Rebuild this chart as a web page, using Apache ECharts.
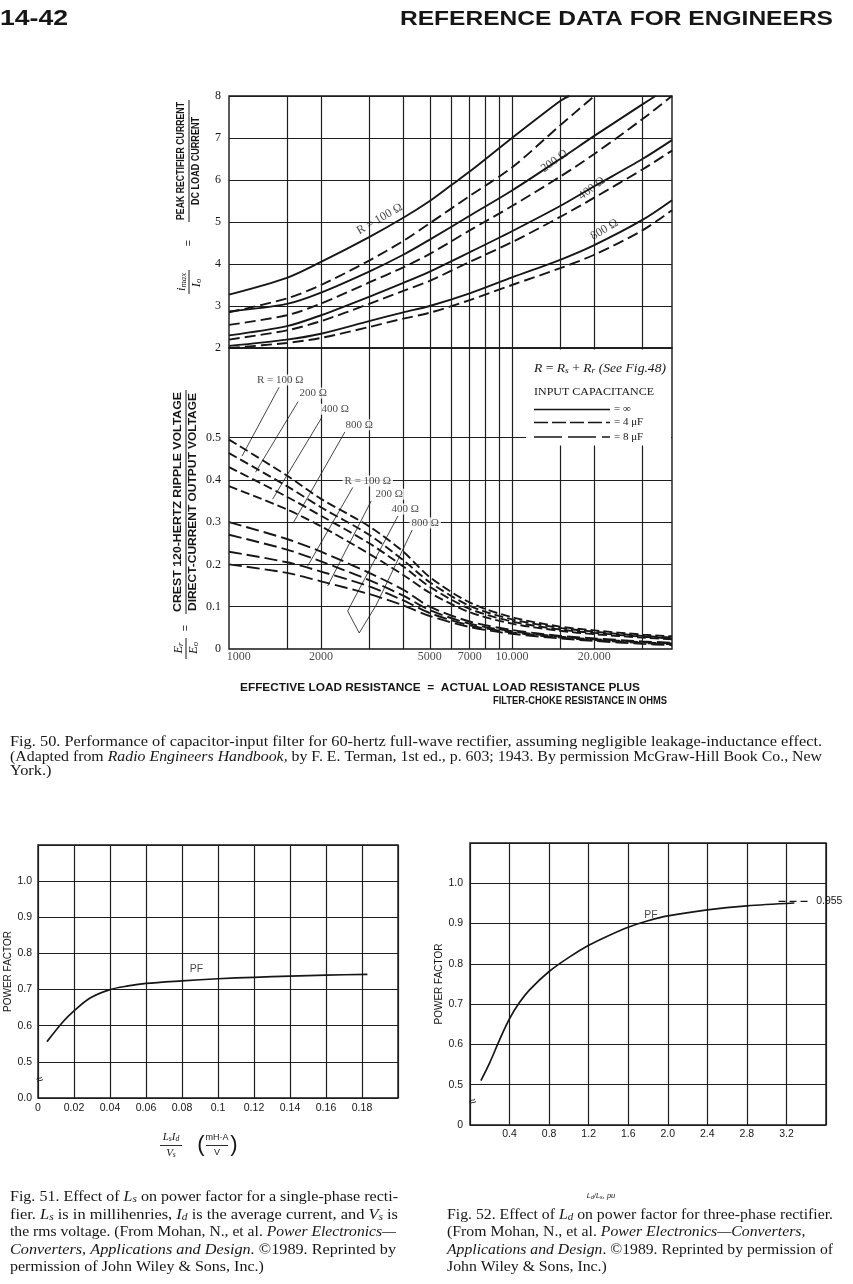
<!DOCTYPE html>
<html><head><meta charset="utf-8">
<script src="https://cdn.jsdelivr.net/npm/echarts@6/dist/echarts.min.js"></script>
<style>html,body{margin:0;padding:0;background:#fff}#c{width:853px;height:1284px}</style>
</head><body><div id="c"></div>
<script>
// ================= DATA =================
// Fig. 50 – x axis (effective load resistance, ohms, log scale)
const resGridX = [1500,2000,3000,4000,5000,6000,7000,8000,9000,10000,15000,20000,30000];
const resTickValues = [1000,2000,5000,7000,10000,20000];
const resTickLabels = ['1000','2000','5000','7000','10.000','20.000'];
const rippleGridY = [0.1,0.2,0.3,0.4,0.5];
const rippleTickLabels = ['0','0.1','0.2','0.3','0.4','0.5'];

// common resistance samples
const resX = [921,1500,2000,3000,4000,5000,7000,10000,15000,20000,30000,38500];

// Peak rectifier current / dc load current
const peakInf100X = [921,1500,2000,3000,4000,5000,6000,7000,10000,15000,16200];
const peakInf100  = [3.27,3.67,4.05,4.64,5.1,5.5,5.88,6.2,7.0,7.88,8.0];
const peakC100X   = [921,1500,2000,3000,4000,5000,7000,10000,15000,20000];
const peakC100    = [2.85,3.18,3.5,4.08,4.55,4.97,5.62,6.3,7.3,8.0];
const peakInf200X = [921,1500,2000,3000,4000,5000,7000,10000,15000,20000,30000,33500];
const peakInf200  = [2.87,3.05,3.32,3.82,4.22,4.58,5.15,5.75,6.5,7.05,7.8,8.0];
const peakC200    = [2.55,2.78,3.06,3.56,3.92,4.24,4.8,5.38,6.08,6.62,7.45,8.0];
const peakInf400  = [2.3,2.52,2.78,3.22,3.55,3.82,4.28,4.78,5.38,5.85,6.5,6.95];
const peakC400    = [2.2,2.42,2.64,3.05,3.36,3.6,4.05,4.52,5.12,5.58,6.25,6.7];
const peakInf800  = [2.05,2.2,2.34,2.64,2.85,3.0,3.3,3.68,4.1,4.45,5.05,5.52];
const peakC800    = [2.0,2.12,2.24,2.5,2.7,2.84,3.14,3.5,3.9,4.22,4.8,5.28];

// Crest ripple / dc output voltage (on resX)
const ripple4uF100 = [0.495,0.41,0.355,0.29,0.23,0.17,0.11,0.075,0.053,0.044,0.034,0.03];
const ripple4uF200 = [0.463,0.385,0.335,0.27,0.21,0.158,0.102,0.07,0.05,0.041,0.031,0.027];
const ripple4uF400 = [0.43,0.36,0.315,0.25,0.195,0.147,0.095,0.065,0.046,0.038,0.029,0.025];
const ripple4uF800 = [0.385,0.33,0.29,0.225,0.175,0.133,0.087,0.06,0.043,0.035,0.027,0.023];
const ripple8uF100 = [0.30,0.26,0.23,0.18,0.14,0.10,0.065,0.045,0.031,0.025,0.018,0.015];
const ripple8uF200 = [0.27,0.235,0.207,0.163,0.126,0.092,0.06,0.042,0.029,0.023,0.016,0.013];
const ripple8uF400 = [0.23,0.205,0.183,0.148,0.115,0.085,0.056,0.039,0.027,0.021,0.014,0.011];
const ripple8uF800 = [0.20,0.18,0.16,0.13,0.103,0.078,0.052,0.036,0.025,0.019,0.012,0.009];

// annotation leaders (data units: ohms, ratio)
const lead4uF100 = [[1405,0.619],[1028,0.456]];
const lead4uF200 = [[1649,0.585],[1152,0.418]];
const lead4uF400 = [[2012,0.547],[1329,0.354]];
const lead4uF800 = [[2445,0.513],[1579,0.297]];
const lead8uF100 = [[2614,0.382],[1786,0.196]];
const lead8uF200 = [[3052,0.35],[2115,0.149]];
const lead8uF400 = [[3823,0.3144],[2503,0.0898],[2759,0.0378]];
const lead8uF800 = [[4313,0.2813],[3184,0.104],[2759,0.0378]];
const rippleLabelText = ['R = 100 Ω','200 Ω','400 Ω','800 Ω','R = 100 Ω','200 Ω','400 Ω','800 Ω'];
const rippleLabelX = [1417,1872,2253,2759,2966,3553,4066,4813];
const rippleLabelY = [0.636,0.605,0.567,0.53,0.397,0.366,0.331,0.298];
const peakLabelText = ['R = 100 Ω','200 Ω','400 Ω','800 Ω'];
const peakLabelX = [3277,14300,19600,21800];
const peakLabelY = [5.07,6.45,5.8,4.82];
const peakLabelAngle = [30,36,37,31];

// Fig. 51 – single-phase PF
const pf1X = [0.005,0.0139,0.02,0.0287,0.04,0.05,0.06,0.08,0.1,0.12,0.14,0.16,0.183];
const pf1Y = [0.556,0.611,0.641,0.676,0.700,0.710,0.717,0.724,0.730,0.734,0.737,0.740,0.742];
// Fig. 52 – three-phase PF
const pf3X = [0.11,0.2,0.3,0.4,0.5,0.6,0.8,1.0,1.2,1.4,1.6,1.8,2.0,2.4,2.8,3.28];
const pf3Y = [0.51,0.555,0.612,0.664,0.704,0.735,0.781,0.816,0.846,0.870,0.891,0.907,0.919,0.934,0.944,0.951];
const pf3Limit = 0.955;
const pf3LimitX = [3.12,3.45];

// ================= HELPERS =================
const SERIF = "'Liberation Serif', 'DejaVu Serif', serif";
const SANS = "'Liberation Sans', Arial, sans-serif";
const INK = '#161616';
const zip = (xs, ys) => xs.map((x, i) => [x, ys[i]]);
const ctx2d = document.createElement('canvas').getContext('2d');

function measure(segs, size, fam, wt) {
  let w = 0;
  for (const [t, k] of segs) {
    const fs = k === 2 ? size * 0.7 : size;
    ctx2d.font = (k ? 'italic ' : 'normal ') + wt + ' ' + fs + 'px ' + fam;
    w += ctx2d.measureText(t).width;
  }
  return w;
}
function mk(segs, o) {
  const size = o.size, fam = o.family || SERIF, wt = o.weight || 'normal';
  const sx = o.target ? o.target / measure(segs, size, fam, wt) : (o.sx || 1);
  const rich = {
    a: {fontSize: size, fontFamily: fam, fontWeight: wt, fontStyle: 'normal', fill: INK},
    b: {fontSize: size, fontFamily: fam, fontWeight: wt, fontStyle: 'italic', fill: INK},
    c: {fontSize: size * 0.7, fontFamily: fam, fontWeight: wt, fontStyle: 'italic', fill: INK, verticalAlign: 'bottom'}
  };
  const text = segs.map(([t, k]) => '{' + 'abc'[k] + '|' + t + '}').join('');
  return {type: 'text', x: o.x, y: o.y, rotation: o.rotation || 0, scaleX: sx, z: o.z || 100, silent: true,
    style: {text, rich, align: o.align || 'left', verticalAlign: 'middle', fontSize: size, fontFamily: fam, fontWeight: wt, fill: INK}};
}
function para(lines, x, ys, size) {
  const s0 = lines[0][1] / measure(lines[0][0], size, SERIF, 'normal');
  return lines.map(([segs, tw], i) => mk(segs, tw ? {x, y: ys[i], size, target: tw} : {x, y: ys[i], size, sx: s0}));
}
function ln(x1, y1, x2, y2, w, dash) {
  return {type: 'line', z: 101, silent: true, shape: {x1, y1, x2, y2},
    style: {stroke: INK, lineWidth: w || 1, lineDash: dash || null}};
}

const gridLineStyle = {color: '#1e1e1e', width: 1.2, type: 'solid'};
const curveW = 1.9;

function curve(name, data, xi, dash) {
  return {name, type: 'line', xAxisIndex: xi, yAxisIndex: xi, data, smooth: 0.3,
    symbol: 'none', z: 3, lineStyle: {color: INK, width: curveW, type: dash || 'solid'}, silent: true};
}
function leader(data) {
  return {type: 'line', xAxisIndex: 1, yAxisIndex: 1, data, symbol: 'none', z: 4, silent: true,
    lineStyle: {color: INK, width: 0.8}};
}

// ================= OPTION =================
const series = [];
series.push({type: 'line', xAxisIndex: 0, yAxisIndex: 0, data: [], z: 1, silent: true,
  markLine: {silent: true, symbol: ['none','none'], label: {show: false}, lineStyle: gridLineStyle, animation: false,
    data: resGridX.map(v => ({xAxis: v}))}});
series.push({type: 'line', xAxisIndex: 1, yAxisIndex: 1, data: [], z: 1, silent: true,
  markLine: {silent: true, symbol: ['none','none'], label: {show: false}, lineStyle: gridLineStyle, animation: false,
    data: resGridX.map(v => ({xAxis: v})).concat(rippleGridY.map(v => ({yAxis: v})))}});

const D4 = [11, 5], D8 = [13, 5], DU = [9, 4];
series.push(curve('∞ 100', zip(peakInf100X, peakInf100), 0));
series.push(curve('C 100', zip(peakC100X, peakC100), 0, D4));
series.push(curve('∞ 200', zip(peakInf200X, peakInf200), 0));
series.push(curve('C 200', zip(resX, peakC200), 0, D4));
series.push(curve('∞ 400', zip(resX, peakInf400), 0));
series.push(curve('C 400', zip(resX, peakC400), 0, D4));
series.push(curve('∞ 800', zip(resX, peakInf800), 0));
series.push(curve('C 800', zip(resX, peakC800), 0, D4));

series.push(curve('4uF 100', zip(resX, ripple4uF100), 1, DU));
series.push(curve('4uF 200', zip(resX, ripple4uF200), 1, DU));
series.push(curve('4uF 400', zip(resX, ripple4uF400), 1, DU));
series.push(curve('4uF 800', zip(resX, ripple4uF800), 1, DU));
series.push(curve('8uF 100', zip(resX, ripple8uF100), 1, D8));
series.push(curve('8uF 200', zip(resX, ripple8uF200), 1, D8));
series.push(curve('8uF 400', zip(resX, ripple8uF400), 1, D8));
series.push(curve('8uF 800', zip(resX, ripple8uF800), 1, D8));

[lead4uF100, lead4uF200, lead4uF400, lead4uF800, lead8uF100, lead8uF200, lead8uF400, lead8uF800]
  .forEach(d => series.push(leader(d)));

series.push({type: 'scatter', xAxisIndex: 1, yAxisIndex: 1, symbolSize: 0, z: 5, silent: true, clip: false,
  data: rippleLabelX.map((x, i) => ({value: [x, rippleLabelY[i]], name: rippleLabelText[i]})),
  label: {show: true, position: 'inside', formatter: '{b}', color: INK, fontSize: 11, fontFamily: SERIF,
    backgroundColor: '#fff', padding: [0, 2]}});
series.push({type: 'scatter', xAxisIndex: 0, yAxisIndex: 0, symbolSize: 0, z: 5, silent: true, clip: false,
  data: peakLabelX.map((x, i) => ({value: [x, peakLabelY[i]], name: peakLabelText[i],
    label: {rotate: peakLabelAngle[i]}})),
  label: {show: true, position: 'inside', formatter: '{b}', color: INK, fontSize: 12, fontFamily: SERIF}});
series.push({type: 'scatter', xAxisIndex: 1, yAxisIndex: 1, symbolSize: 0, z: 5, silent: true, clip: false,
  data: resTickValues.map((x, i) => ({value: [x, 0], name: resTickLabels[i]})),
  label: {show: true, position: 'bottom', distance: 2, formatter: '{b}', color: INK, fontSize: 12, fontFamily: SERIF}});

// Fig 51
series.push({type: 'line', xAxisIndex: 2, yAxisIndex: 2, data: zip(pf1X, pf1Y), smooth: 0.3,
  symbol: 'none', z: 3, lineStyle: {color: INK, width: 1.7}, silent: true});
series.push({type: 'scatter', xAxisIndex: 2, yAxisIndex: 2, symbolSize: 0, silent: true,
  data: [{value: [0.088, 0.757], name: 'PF'}],
  label: {show: true, position: 'inside', formatter: '{b}', color: INK, fontSize: 10.5, fontFamily: SANS}});
// Fig 52
series.push({type: 'line', xAxisIndex: 3, yAxisIndex: 3, data: zip(pf3X, pf3Y), smooth: 0.3,
  symbol: 'none', z: 3, lineStyle: {color: INK, width: 1.7}, silent: true});
series.push({type: 'line', xAxisIndex: 3, yAxisIndex: 3, data: pf3LimitX.map(x => [x, pf3Limit]), symbol: 'none', z: 3,
  clip: false, silent: true, lineStyle: {color: INK, width: 1.1, type: [7, 4]},
  endLabel: {show: true, formatter: String(pf3Limit), color: INK, fontSize: 10.5, fontFamily: SANS, distance: 5}});
series.push({type: 'scatter', xAxisIndex: 3, yAxisIndex: 3, symbolSize: 0, silent: true,
  data: [{value: [1.83, 0.921], name: 'PF'}],
  label: {show: true, position: 'inside', formatter: '{b}', color: INK, fontSize: 10.5, fontFamily: SANS}});

const frame = {show: true, borderColor: INK, borderWidth: 1.4, backgroundColor: 'transparent'};
const hiddenAxis = {axisLine: {show: false}, axisTick: {show: false}, axisLabel: {show: false}, splitLine: {show: false}};
const fmt1 = v => (Math.round(v * 10) / 10).toFixed(1);
const R90 = Math.PI / 2;

const graphic = [
  mk([['14-42', 0]], {x: 0, y: 19, size: 22, family: SANS, weight: 'bold', target: 68}),
  mk([['REFERENCE DATA FOR ENGINEERS', 0]], {x: 833, y: 19, size: 21, family: SANS, weight: 'bold', target: 433, align: 'right'}),
  // top y-title
  mk([['PEAK RECTIFIER CURRENT', 0]], {x: 181.5, y: 161, size: 10.5, family: SANS, weight: 'bold', target: 118, align: 'center', rotation: R90}),
  ln(189, 100, 189, 222, 1),
  mk([['DC LOAD CURRENT', 0]], {x: 196.5, y: 161, size: 10.5, family: SANS, weight: 'bold', target: 88, align: 'center', rotation: R90}),
  mk([['=', 0]], {x: 189, y: 243, size: 11, family: SANS, align: 'center', rotation: R90}),
  mk([['i', 1], ['max', 2]], {x: 182, y: 282, size: 12.5, align: 'center', rotation: R90}),
  ln(189, 270, 189, 294, 1),
  mk([['I', 1], ['o', 2]], {x: 197, y: 283, size: 12.5, align: 'center', rotation: R90}),
  // lower y-title
  mk([['CREST 120-HERTZ RIPPLE VOLTAGE', 0]], {x: 178, y: 502, size: 10.5, family: SANS, weight: 'bold', target: 220, align: 'center', rotation: R90}),
  ln(186, 390, 186, 614, 1),
  mk([['DIRECT-CURRENT OUTPUT VOLTAGE', 0]], {x: 193.5, y: 502, size: 10.5, family: SANS, weight: 'bold', target: 218, align: 'center', rotation: R90}),
  mk([['=', 0]], {x: 186, y: 628, size: 11, family: SANS, align: 'center', rotation: R90}),
  mk([['E', 1], ['r', 2]], {x: 179, y: 648, size: 12.5, align: 'center', rotation: R90}),
  ln(186, 638, 186, 659, 1),
  mk([['E', 1], ['o', 2]], {x: 194, y: 648, size: 12.5, align: 'center', rotation: R90}),
  // x title
  mk([['EFFECTIVE LOAD RESISTANCE  =  ACTUAL LOAD RESISTANCE PLUS', 0]], {x: 240, y: 688, size: 10.5, family: SANS, weight: 'bold', target: 400}),
  mk([['FILTER-CHOKE RESISTANCE IN OHMS', 0]], {x: 493, y: 701, size: 10.5, family: SANS, weight: 'bold', target: 174}),
  // legend box
  {type: 'rect', z: 99, silent: true, shape: {x: 526, y: 349.5, width: 145, height: 96}, style: {fill: '#fff'}},
  mk([['R', 1], [' = ', 0], ['R', 1], ['s', 2], [' + ', 0], ['R', 1], ['r', 2], [' (See Fig.', 1], ['48', 1], [')', 1]],
     {x: 534, y: 369, size: 11.5, target: 132}),
  mk([['INPUT CAPACITANCE', 0]], {x: 534, y: 392, size: 11, target: 120}),
  ln(534, 409.5, 610, 409.5, 1.7),
  mk([['= ∞', 0]], {x: 614, y: 409.5, size: 11}),
  ln(534, 422.5, 610, 422.5, 1.7, [14, 4]),
  mk([['= 4 μF', 0]], {x: 614, y: 422.5, size: 11}),
  ln(534, 437, 610, 437, 1.7, [28, 6]),
  mk([['= 8 μF', 0]], {x: 614, y: 437, size: 11}),
  // fig 51 axis extras
  mk([['≈', 0]], {x: 40, y: 1080, size: 12, family: SANS, align: 'center', rotation: 0.4}),
  mk([['L', 1], ['s', 2], ['I', 1], ['d', 2]], {x: 171, y: 1137, size: 11, align: 'center'}),
  ln(160, 1145.5, 182, 1145.5, 0.9),
  mk([['V', 1], ['s', 2]], {x: 171, y: 1153, size: 11, align: 'center'}),
  mk([['(', 0]], {x: 201, y: 1145, size: 22, family: SANS, align: 'center'}),
  mk([['mH·A', 0]], {x: 217, y: 1138, size: 9, family: SANS, align: 'center'}),
  ln(206, 1145.5, 228, 1145.5, 0.9),
  mk([['V', 0]], {x: 217, y: 1153, size: 9, family: SANS, align: 'center'}),
  mk([[')', 0]], {x: 234, y: 1145, size: 22, family: SANS, align: 'center'}),
  // fig 52 axis extras
  mk([['≈', 0]], {x: 473, y: 1102, size: 12, family: SANS, align: 'center', rotation: 0.4}),
  mk([['L', 1], ['d', 2], ['/', 1], ['L', 1], ['s', 2], [', pu', 1]], {x: 601, y: 1196, size: 7.5, family: SANS, align: 'center'})
].concat(
  para([
    [[['Fig. 50. Performance of capacitor-input filter for 60-hertz full-wave rectifier, assuming negligible leakage-inductance effect.', 0]], 812],
    [[['(Adapted from ', 0], ['Radio Engineers Handbook,', 1], [' by F. E. Terman, 1st ed., p. 603; 1943. By permission McGraw-Hill Book Co., New', 0]], 812],
    [[['York.)', 0]], null]
  ], 10, [742, 757, 771], 14),
  para([
    [[['Fig. 51. Effect of ', 0], ['L', 1], ['s', 2], [' on power factor for a single-phase recti-', 0]], 388],
    [[['fier. ', 0], ['L', 1], ['s', 2], [' is in millihenries, ', 0], ['I', 1], ['d', 2], [' is the average current, and ', 0], ['V', 1], ['s', 2], [' is', 0]], 388],
    [[['the rms voltage. (From Mohan, N., et al. ', 0], ['Power Electronics—', 1]], 386],
    [[['Converters, Applications and Design.', 1], [' ©1989. Reprinted by', 0]], 386],
    [[['permission of John Wiley & Sons, Inc.)', 0]], null]
  ], 10, [1197, 1215, 1232.5, 1250, 1267.5], 14),
  para([
    [[['Fig. 52. Effect of ', 0], ['L', 1], ['d', 2], [' on power factor for three-phase rectifier.', 0]], 386],
    [[['(From Mohan, N., et al. ', 0], ['Power Electronics—Converters,', 1]], null],
    [[['Applications and Design', 1], ['. ©1989. Reprinted by permission of', 0]], 386],
    [[['John Wiley & Sons, Inc.)', 0]], null]
  ], 447, [1215, 1232.5, 1250, 1267.5], 14)
);

const option = {
  animation: false,
  backgroundColor: '#fff',
  grid: [
    Object.assign({left: 229, top: 96, width: 443, height: 252}, frame),
    Object.assign({left: 229, top: 348, width: 443, height: 301}, frame),
    Object.assign({left: 38, top: 845, width: 360, height: 253}, frame),
    Object.assign({left: 470, top: 843, width: 356, height: 282}, frame)
  ],
  xAxis: [
    Object.assign({gridIndex: 0, type: 'log', logBase: 10, min: 921, max: 38500}, hiddenAxis),
    Object.assign({gridIndex: 1, type: 'log', logBase: 10, min: 921, max: 38500}, hiddenAxis),
    {gridIndex: 2, type: 'value', min: 0, max: 0.2, interval: 0.02,
      axisLine: {show: false}, axisTick: {show: false},
      axisLabel: {color: INK, fontSize: 10.5, fontFamily: SANS, margin: 5,
        formatter: v => v > 0.19 ? '' : String(Math.round(v * 100) / 100)},
      splitLine: {show: true, lineStyle: gridLineStyle}},
    {gridIndex: 3, type: 'value', min: 0, max: 3.6, interval: 0.4,
      axisLine: {show: false}, axisTick: {show: false},
      axisLabel: {color: INK, fontSize: 10.5, fontFamily: SANS, margin: 4,
        formatter: v => (v < 0.01 || v > 3.5) ? '' : fmt1(v)},
      splitLine: {show: true, lineStyle: gridLineStyle}}
  ],
  yAxis: [
    {gridIndex: 0, type: 'value', min: 2, max: 8, interval: 1,
      axisLine: {show: false}, axisTick: {show: false},
      axisLabel: {color: INK, fontSize: 12, fontFamily: SERIF, margin: 8},
      splitLine: {show: true, lineStyle: gridLineStyle}},
    {gridIndex: 1, type: 'value', min: 0, max: 0.7116, interval: 0.1,
      axisLine: {show: false}, axisTick: {show: false},
      axisLabel: {color: INK, fontSize: 12, fontFamily: SERIF, margin: 8, showMaxLabel: false,
        formatter: v => v < 0.55 ? rippleTickLabels[Math.round(v * 10)] : ''},
      splitLine: {show: false}},
    {gridIndex: 2, type: 'value', min: 0.4, max: 1.1, interval: 0.1,
      name: 'POWER FACTOR', nameLocation: 'middle', nameGap: 22, nameRotate: 90,
      nameTextStyle: {color: INK, fontSize: 10, fontFamily: SANS},
      axisLine: {show: false}, axisTick: {show: false},
      axisLabel: {color: INK, fontSize: 10.5, fontFamily: SANS, margin: 6,
        formatter: v => v < 0.45 ? '0.0' : (v > 1.05 ? '' : fmt1(v))},
      splitLine: {show: true, lineStyle: gridLineStyle}},
    {gridIndex: 3, type: 'value', min: 0.4, max: 1.1, interval: 0.1,
      name: 'POWER FACTOR', nameLocation: 'middle', nameGap: 26, nameRotate: 90,
      nameTextStyle: {color: INK, fontSize: 10, fontFamily: SANS},
      axisLine: {show: false}, axisTick: {show: false},
      axisLabel: {color: INK, fontSize: 10.5, fontFamily: SANS, margin: 7,
        formatter: v => v < 0.45 ? '0' : (v > 1.05 ? '' : fmt1(v))},
      splitLine: {show: true, lineStyle: gridLineStyle}}
  ],
  series,
  graphic
};

const chart = echarts.init(document.getElementById('c'), null, {renderer: 'canvas'});
chart.setOption(option);
</script>
</body></html>
